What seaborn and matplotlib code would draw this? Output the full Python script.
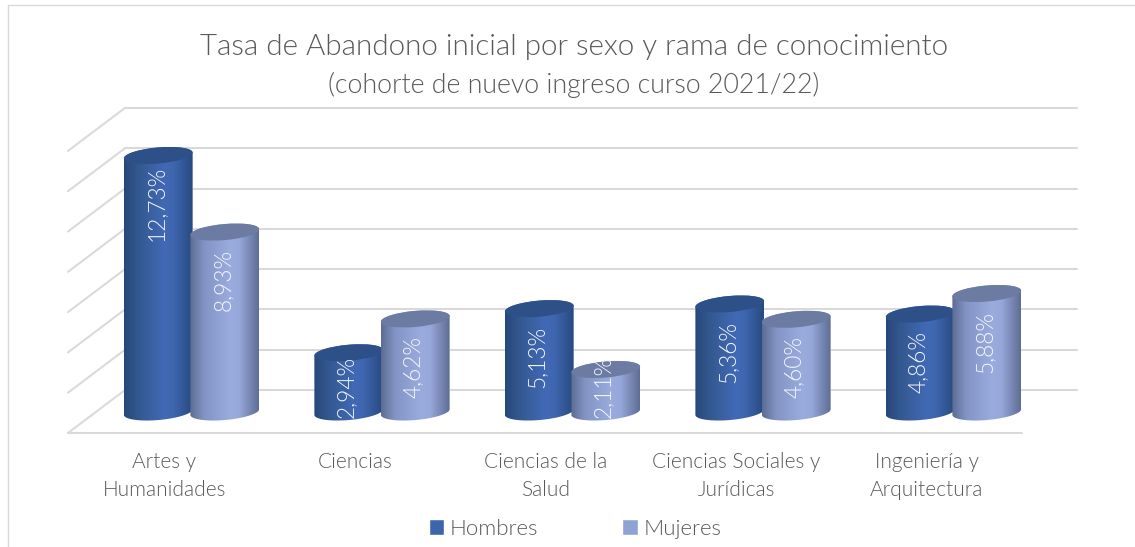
import numpy as np
import pandas as pd
import seaborn as sns
import matplotlib.pyplot as plt
from matplotlib.colors import LinearSegmentedColormap
from matplotlib.lines import Line2D
from matplotlib.patches import Ellipse, Patch, Polygon
from matplotlib.transforms import Affine2D

# -----------------------------
# 1. Data
# -----------------------------
categories = ["Artes y\nHumanidades", "Ciencias", "Ciencias de la\nSalud",
              "Ciencias Sociales y\nJurídicas", "Ingeniería y\nArquitectura"]
hombres = [12.73, 2.94, 5.13, 5.36, 4.86]
mujeres = [8.93, 4.62, 2.11, 4.60, 5.88]
grid_ticks = [0, 2, 4, 6, 8, 10, 12, 14]

# -----------------------------
# 2. Theme and layout
# -----------------------------
W, H = 1135, 547
sns.set_theme(style="white")
plt.rcParams["font.family"] = ["Lato", "DejaVu Sans"]
plt.rcParams["font.weight"] = 300

TEXT = "#595959"
GRID = "#d9d9d9"
COLORS = {"Hombres": "#3c65ae", "Mujeres": "#8fa2d4"}
TOPS = {"Hombres": "#2e5088", "Mujeres": "#6b7ba2"}
SHADES = {"Hombres": ["#264879", "#33588f", "#4169b5", "#3f67b0", "#274a80"],
          "Mujeres": ["#5c6c92", "#8294c4", "#9aabde", "#96a7da", "#5e6e95"]}

BASE_PY = 412      # pixel row of value 0 in the plane of the cylinders
FLOOR_PY = 433     # front edge of the floor
PX_PER_UNIT = 20.15
GROUP_X0, GROUP_DX = 191.5, 190.5
BAR_DX = 66.5      # distance between the two cylinders of a group
RX, RY, TILT = 34.5, 8, 5

fig = plt.figure(figsize=(W / 100, H / 100), dpi=100)
fig.patch.set_facecolor("white")
ax = fig.add_axes([0, (H - FLOOR_PY) / H, 1, FLOOR_PY / H])
ax.patch.set_visible(False)

# pixels of the picture, y going down
px = Affine2D().scale(1, -1).translate(0, H)

# -----------------------------
# 3. Frame and 3D walls
# -----------------------------
def line(xs, ys, color=GRID, lw=1.45):
    fig.add_artist(Line2D(xs, ys, transform=px, color=color, lw=lw, zorder=-1))

line([8, 8], [5, H], color="#d9d9d9", lw=1.0)
line([8, W], [5, 5], color="#d9d9d9", lw=1.0)

for v in grid_ticks:
    back = BASE_PY - 22 - v * PX_PER_UNIT
    line([125, 1077], [back, back])
    line([125, 68], [back, back + 43])
line([68, 1022], [FLOOR_PY, FLOOR_PY])

# -----------------------------
# 4. Bars
# -----------------------------
df = pd.DataFrame({"rama": categories, "Hombres": hombres, "Mujeres": mujeres})
long_df = df.melt(id_vars="rama", var_name="sexo", value_name="tasa")

sns.barplot(data=long_df, x="rama", y="tasa", hue="sexo", palette=COLORS,
            width=2 * BAR_DX / GROUP_DX, gap=0, dodge=True, legend=False, ax=ax)

ax.set_xlim(-GROUP_X0 / GROUP_DX, (W - GROUP_X0) / GROUP_DX)
ax.set_ylim((BASE_PY - FLOOR_PY) / PX_PER_UNIT, BASE_PY / PX_PER_UNIT)
ax.set_xlabel("")
ax.set_ylabel("")
ax.set_yticks([])
ax.set_xticks(np.arange(len(categories)) - 27 / GROUP_DX, categories)
ax.tick_params(axis="x", length=0, pad=13.9, labelsize=15, labelcolor=TEXT)
for lab in ax.get_xticklabels():
    lab.set_linespacing(1.5)
sns.despine(ax=ax, left=True, bottom=True)
fig.canvas.draw()

# each seaborn bar becomes a cylinder: silhouette, shaded body and lid
to_px = ax.transData + px.inverted()
s, c = np.sin(np.radians(TILT)), np.cos(np.radians(TILT))


def rim(cx, cy, t):
    return np.c_[cx + RX * np.cos(t) * c + RY * np.sin(t) * s,
                 cy - RX * np.cos(t) * s + RY * np.sin(t) * c]


for k, (name, container) in enumerate(zip(["Hombres", "Mujeres"], ax.containers)):
    cmap = LinearSegmentedColormap.from_list(
        "cyl", list(zip([0, 0.2, 0.58, 0.72, 1], SHADES[name])))
    for bar in container:
        x0, y_top = to_px.transform((bar.get_x(), bar.get_height()))
        x1, y_base = to_px.transform((bar.get_x() + bar.get_width(), 0))
        cx = (x0 + x1) / 2

        outline = np.vstack([rim(cx, y_base, np.linspace(0, np.pi, 60)),
                             rim(cx, y_top, np.linspace(np.pi, 2 * np.pi, 60))])
        clip = Polygon(outline, closed=True, transform=px)
        bar.set_clip_path(clip)
        bar.set_zorder(2 + k)

        im = ax.imshow(np.linspace(0, 1, 128)[None, :], cmap=cmap, aspect="auto",
                       extent=(cx - RX, cx + RX, y_base + 12, y_top - 12),
                       zorder=2.1 + k, interpolation="bilinear")
        im.set_transform(px)
        im.set_clip_path(clip)

        ax.add_patch(Ellipse((cx, y_top), 2 * RX, 2 * RY, angle=-TILT, transform=px,
                             facecolor=TOPS[name], edgecolor="none", zorder=2.2 + k))

        # labels sit near the lid, short bars push them off the base
        label_py = min(y_top + 48, y_base - 25)
        ax.text(cx - 2, label_py, f"{bar.get_height():.2f}%".replace(".", ","),
                transform=px, rotation=90, ha="center", va="center",
                color="#f4f6fb", fontsize=16.3, zorder=6)

ax.set_xlim(-GROUP_X0 / GROUP_DX, (W - GROUP_X0) / GROUP_DX)
ax.set_ylim((BASE_PY - FLOOR_PY) / PX_PER_UNIT, BASE_PY / PX_PER_UNIT)

# -----------------------------
# 5. Title and legend
# -----------------------------
fig.text(574 / W, 1 - 47 / H, "Tasa de Abandono inicial por sexo y rama de conocimiento",
         ha="center", va="center", color=TEXT, fontsize=21.3)
fig.text(574 / W, 1 - 85 / H, "(cohorte de nuevo ingreso curso 2021/22)",
         ha="center", va="center", color=TEXT, fontsize=19.3)

handles = [Patch(facecolor=COLORS[n], label=n) for n in ["Hombres", "Mujeres"]]
fig.legend(handles=handles, ncol=2, loc="center", bbox_to_anchor=(575 / W, 1 - 529 / H),
           frameon=False, fontsize=16, labelcolor=TEXT, handlelength=0.7,
           handleheight=0.7, handletextpad=0.25, columnspacing=3.8)

fig.savefig("out.png", dpi=100, facecolor="white")
